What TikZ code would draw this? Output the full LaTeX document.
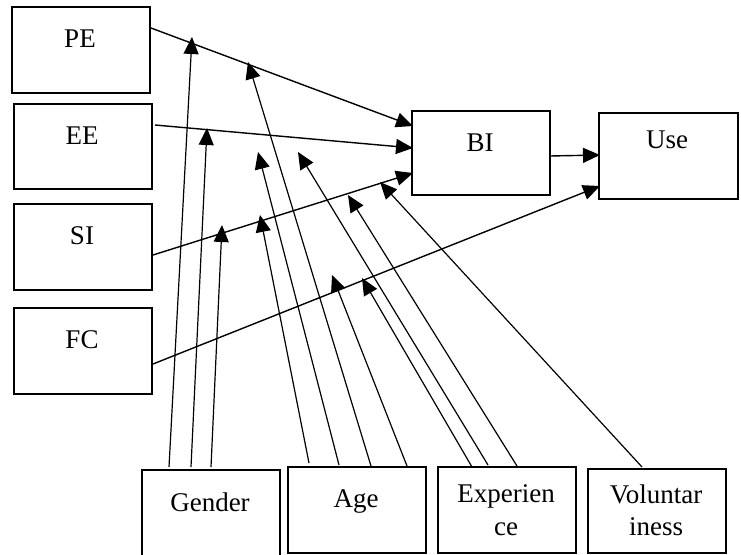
\documentclass[tikz,border=0pt]{standalone}
\usepackage{fontspec}
\setmainfont{Liberation Serif}
\usetikzlibrary{arrows.meta}
\begin{document}
\begin{tikzpicture}[x=1pt,y=-1pt,
  box/.style={draw,line width=1.9pt,inner sep=0pt,anchor=north west},
  lbl/.style={anchor=base,inner sep=0pt,font=\fontsize{27}{32}\selectfont},
  conn/.style={line width=1.4pt,-{Triangle[length=17pt,width=15pt]}},
  modline/.style={line width=1.2pt,-{Triangle[length=17pt,width=15pt]}}]
\useasboundingbox (0,0) rectangle (741,554);
\clip (0,0) rectangle (741,554);
% boxes
\node[box,minimum width=138pt,minimum height=86pt] (pe) at (11,6) {};
\node[box,minimum width=138pt,minimum height=85pt] (ee) at (13,103) {};
\node[box,minimum width=138pt,minimum height=86pt] (si) at (13,203) {};
\node[box,minimum width=138pt,minimum height=86pt] (fc) at (13,307) {};
\node[box,minimum width=138pt,minimum height=84pt] (bi) at (411,110) {};
\node[box,minimum width=139pt,minimum height=86pt] (use) at (598,112) {};
\node[box,minimum width=138pt,minimum height=92pt] (gender) at (141,469) {};
\node[box,minimum width=138pt,minimum height=86pt] (age) at (287,466) {};
\node[box,minimum width=138pt,minimum height=86pt] (exp) at (437,466) {};
\node[box,minimum width=138pt,minimum height=84pt] (vol) at (587,468) {};
% labels
\node[lbl] (tpe) at (80,47) {PE};
\node[lbl] (tee) at (82,144) {EE};
\node[lbl] (tsi) at (82,244) {SI};
\node[lbl] (tfc) at (82,348) {FC};
\node[lbl] (tbi) at (480,151) {BI};
\node[lbl] (tuse) at (667,148) {Use};
\node[lbl] (tgender) at (210,511) {Gender};
\node[lbl] (tage) at (356,507) {Age};
\node[lbl] (texp1) at (506,502) {Experien};
\node[lbl] (texp2) at (506,535) {ce};
\node[lbl] (tvol1) at (656,503) {Voluntar};
\node[lbl] (tvol2) at (656,535) {iness};
% connector end points
\coordinate (peA) at (151,28);   \coordinate (biA) at (413,126);
\coordinate (eeA) at (155,125);  \coordinate (biB) at (413,148);
\coordinate (siA) at (153,255);  \coordinate (biC) at (413,173);
\coordinate (fcA) at (153,364);  \coordinate (useA) at (600,186);
\coordinate (biD) at (550,156);  \coordinate (useB) at (600,155);
% main paths
\draw[conn] (peA) -- (biA);
\draw[conn] (eeA) -- (biB);
\draw[conn] (siA) -- (biC);
\draw[conn] (fcA) -- (useA);
\draw[conn] (biD) -- (useB);
% moderator start points
\coordinate (g1) at (169,467); \coordinate (g2) at (191,467); \coordinate (g3) at (211,467);
\coordinate (a1) at (309,463); \coordinate (a2) at (339,465); \coordinate (a3) at (371,466); \coordinate (a4) at (407,466);
\coordinate (e1) at (472,467); \coordinate (e2) at (488,465); \coordinate (e3) at (517,466);
\coordinate (v1) at (642,467);
% moderator tips
\coordinate (tg1) at (192,37); \coordinate (tg2) at (207,128); \coordinate (tg3) at (222,225);
\coordinate (ta1) at (260,215); \coordinate (ta2) at (258,152); \coordinate (ta3) at (248,62); \coordinate (ta4) at (332,275);
\coordinate (te1) at (362,278); \coordinate (te2) at (298,152); \coordinate (te3) at (348,195);
\coordinate (tv1) at (380,182);
\foreach \s/\t in {g1/tg1,g2/tg2,g3/tg3,a1/ta1,a2/ta2,a3/ta3,a4/ta4,e1/te1,e2/te2,e3/te3,v1/tv1}
  \draw[modline] (\s) -- (\t);
\end{tikzpicture}
\end{document}
